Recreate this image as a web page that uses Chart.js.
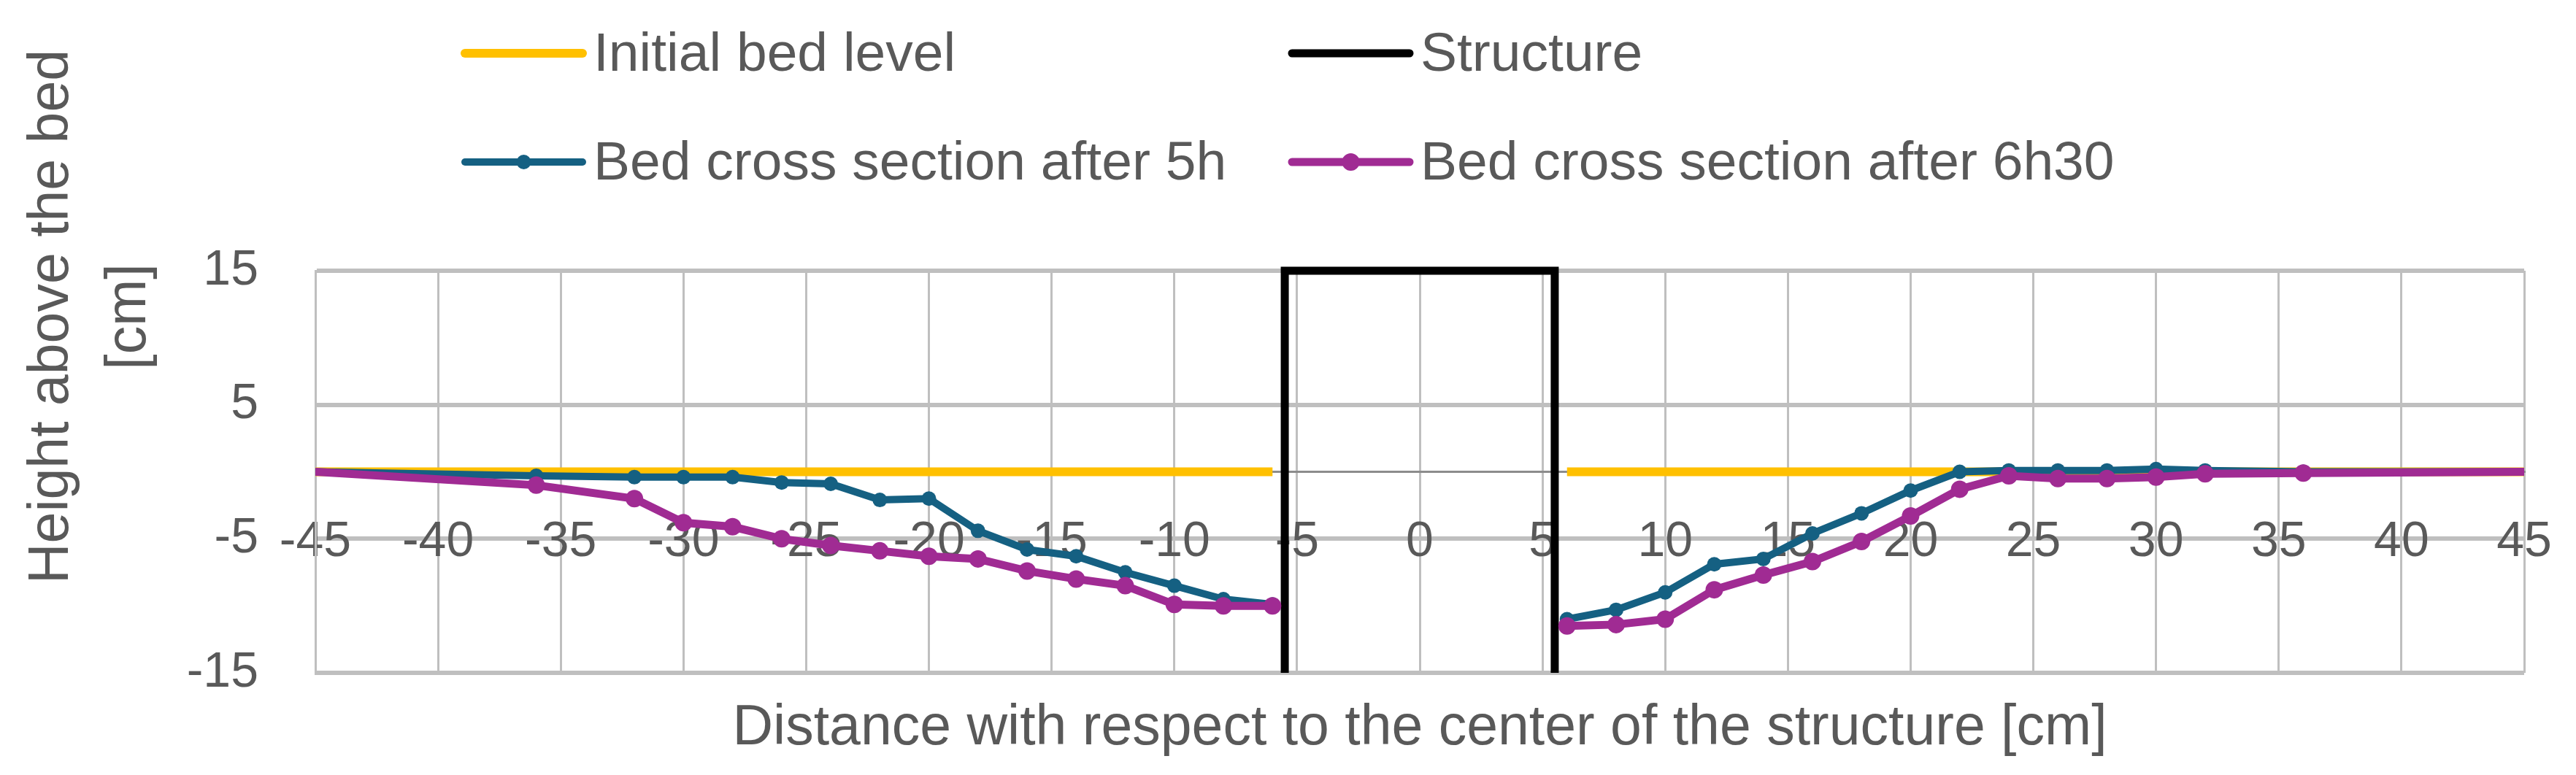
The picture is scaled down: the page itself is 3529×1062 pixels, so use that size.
<!DOCTYPE html>
<html>
<head>
<meta charset="utf-8">
<script src="https://cdn.jsdelivr.net/npm/chart.js@4.4.1/dist/chart.umd.min.js"></script>
<style>
  body { margin: 0; background: #fff; }
  canvas { display: block; }
</style>
</head>
<body>
<canvas id="bedChart" width="3529" height="1062"></canvas>
<script>
// measured positions along the flume [cm]; the 0 entry is a gap where the structure sits
const sectionX = [-45, -36, -32, -30, -28, -26, -24, -22, -20, -18, -16, -14, -12, -10, -8, -6, 0, 6, 8, 10, 12, 14, 16, 18, 20, 22, 24, 26, 28, 30, 32, 36, 45];
const after5h = [0, -0.3, -0.4, -0.4, -0.4, -0.8, -0.9, -2.1, -2.0, -4.4, -5.8, -6.3, -7.5, -8.5, -9.5, -9.9, null, -11.0, -10.3, -9.0, -6.9, -6.5, -4.6, -3.1, -1.4, 0, 0.1, 0.1, 0.1, 0.2, 0.1, 0, 0];
const after6h30 = [0, -1.0, -2.0, -3.8, -4.1, -5.0, -5.5, -5.9, -6.3, -6.5, -7.4, -8.0, -8.5, -9.9, -10.0, -10.0, null, -11.5, -11.4, -11.0, -8.8, -7.7, -6.7, -5.2, -3.3, -1.3, -0.3, -0.5, -0.5, -0.4, -0.15, -0.1, 0];

// initial flat bed, interrupted by the structure
const bedX = [-45, -6, 0, 6, 45];
const bedLevel = [0, 0, null, 0, 0];

// outline of the structure
const structureX = [-5.5, -5.5, 5.5, 5.5];
const structureY = [-15, 15, 15, -15];

// axis ranges
const xRange = [-45, 45, 5];
const yRange = [-15, 15, 10];

const FONT = '"Liberation Sans", Arial, sans-serif';
const TEXT = '#595959';

// pair x and y arrays into chart points
const toPoints = (xs, ys) => xs.map((x, i) => ({ x: x, y: ys[i] }));
// no marker on the two end points
const markers = (r) => sectionX.map(x => Math.abs(x) === 45 ? 0 : r);

// legend in a 2 x 2 grid like the original
const gridLegend = {
    id: 'gridLegend',
    afterDraw(chart, args, opts) {
        const ctx = chart.ctx;
        ctx.save();
        ctx.font = opts.font;
        ctx.textBaseline = 'alphabetic';
        chart.data.datasets.forEach((ds, i) => {
            const x = opts.columns[i % 2];
            const y = opts.rows[Math.floor(i / 2)];
            ctx.strokeStyle = ds.borderColor;
            ctx.lineWidth = ds.borderWidth;
            ctx.lineCap = 'round';
            ctx.beginPath();
            ctx.moveTo(x, y);
            ctx.lineTo(x + opts.sample, y);
            ctx.stroke();
            if (ds.legendMarker) {
                ctx.fillStyle = ds.borderColor;
                ctx.beginPath();
                ctx.arc(x + opts.sample / 2, y, ds.legendMarker, 0, Math.PI * 2);
                ctx.fill();
            }
            ctx.fillStyle = opts.color;
            ctx.fillText(ds.label, x + opts.sample + opts.gap, y + opts.baseline);
        });
        ctx.restore();
    }
};

// axis titles placed where Excel put them
const axisTitles = {
    id: 'axisTitles',
    afterDraw(chart, args, opts) {
        const ctx = chart.ctx;
        const area = chart.chartArea;
        ctx.save();
        ctx.font = opts.font;
        ctx.fillStyle = opts.color;
        ctx.textAlign = 'center';
        ctx.textBaseline = 'alphabetic';
        ctx.fillText(opts.xText, (area.left + area.right) / 2, opts.xBaseline);
        ctx.translate(0, opts.yCenter);
        ctx.rotate(-Math.PI / 2);
        opts.yText.forEach((line, i) => {
            ctx.fillText(line, 0, opts.yBaselines[i]);
        });
        ctx.restore();
    }
};

const ctx = document.querySelector('#bedChart').getContext('2d');
const bedChart = new Chart(ctx, {
    type: 'line',
    data: {
        datasets: [{
            label: 'Initial bed level',
            data: toPoints(bedX, bedLevel),
            borderColor: '#FFC000',
            borderWidth: 12,
            pointRadius: 0,
            order: 4
        }, {
            label: 'Structure',
            data: toPoints(structureX, structureY),
            borderColor: '#000000',
            borderWidth: 11,
            pointRadius: 0,
            clip: false,
            order: 3
        }, {
            label: 'Bed cross section after 5h',
            data: toPoints(sectionX, after5h),
            borderColor: '#156082',
            backgroundColor: '#156082',
            borderWidth: 10,
            pointRadius: markers(10),
            pointBorderWidth: 0,
            legendMarker: 10,
            order: 2
        }, {
            label: 'Bed cross section after 6h30',
            data: toPoints(sectionX, after6h30),
            borderColor: '#A02B93',
            backgroundColor: '#A02B93',
            borderWidth: 11,
            pointRadius: markers(12),
            pointBorderWidth: 0,
            legendMarker: 12,
            order: 1
        }]
    },
    options: {
        responsive: false,
        animation: false,
        spanGaps: false,
        layout: { padding: { top: 371, bottom: 140, left: 0, right: 71 } },
        scales: {
            x: {
                type: 'linear',
                min: xRange[0],
                max: xRange[1],
                position: { y: 0 },
                ticks: { stepSize: xRange[2], color: TEXT, font: { family: FONT, size: 68 }, padding: 56, maxRotation: 0 },
                grid: { color: '#BFBFBF', lineWidth: 3, drawTicks: false },
                border: { color: '#8C8C8C', width: 3 },
                // the end labels may hang over the plot edge, as in Excel
                afterFit: (scale) => { scale.paddingLeft = 0; scale.paddingRight = 0; }
            },
            y: {
                min: yRange[0],
                max: yRange[1],
                ticks: { stepSize: yRange[2], color: TEXT, font: { family: FONT, size: 68 }, padding: 78 },
                grid: { color: '#BFBFBF', lineWidth: 6, drawTicks: false },
                border: { color: '#BFBFBF', width: 3 },
                afterFit: (scale) => { scale.width = 432; }
            }
        },
        plugins: {
            legend: { display: false },
            tooltip: { enabled: false },
            gridLegend: {
                columns: [637, 1770],
                rows: [73, 222],
                sample: 161,
                gap: 15,
                baseline: 24,
                font: '75px ' + FONT,
                color: TEXT
            },
            axisTitles: {
                xText: 'Distance with respect to the center of the structure [cm]',
                xBaseline: 1020,
                yText: ['Height above the bed', '[cm]'],
                yCenter: 434,
                yBaselines: [93, 199],
                font: '77px ' + FONT,
                color: TEXT
            }
        }
    },
    plugins: [gridLegend, axisTitles]
});
</script>
</body>
</html>
